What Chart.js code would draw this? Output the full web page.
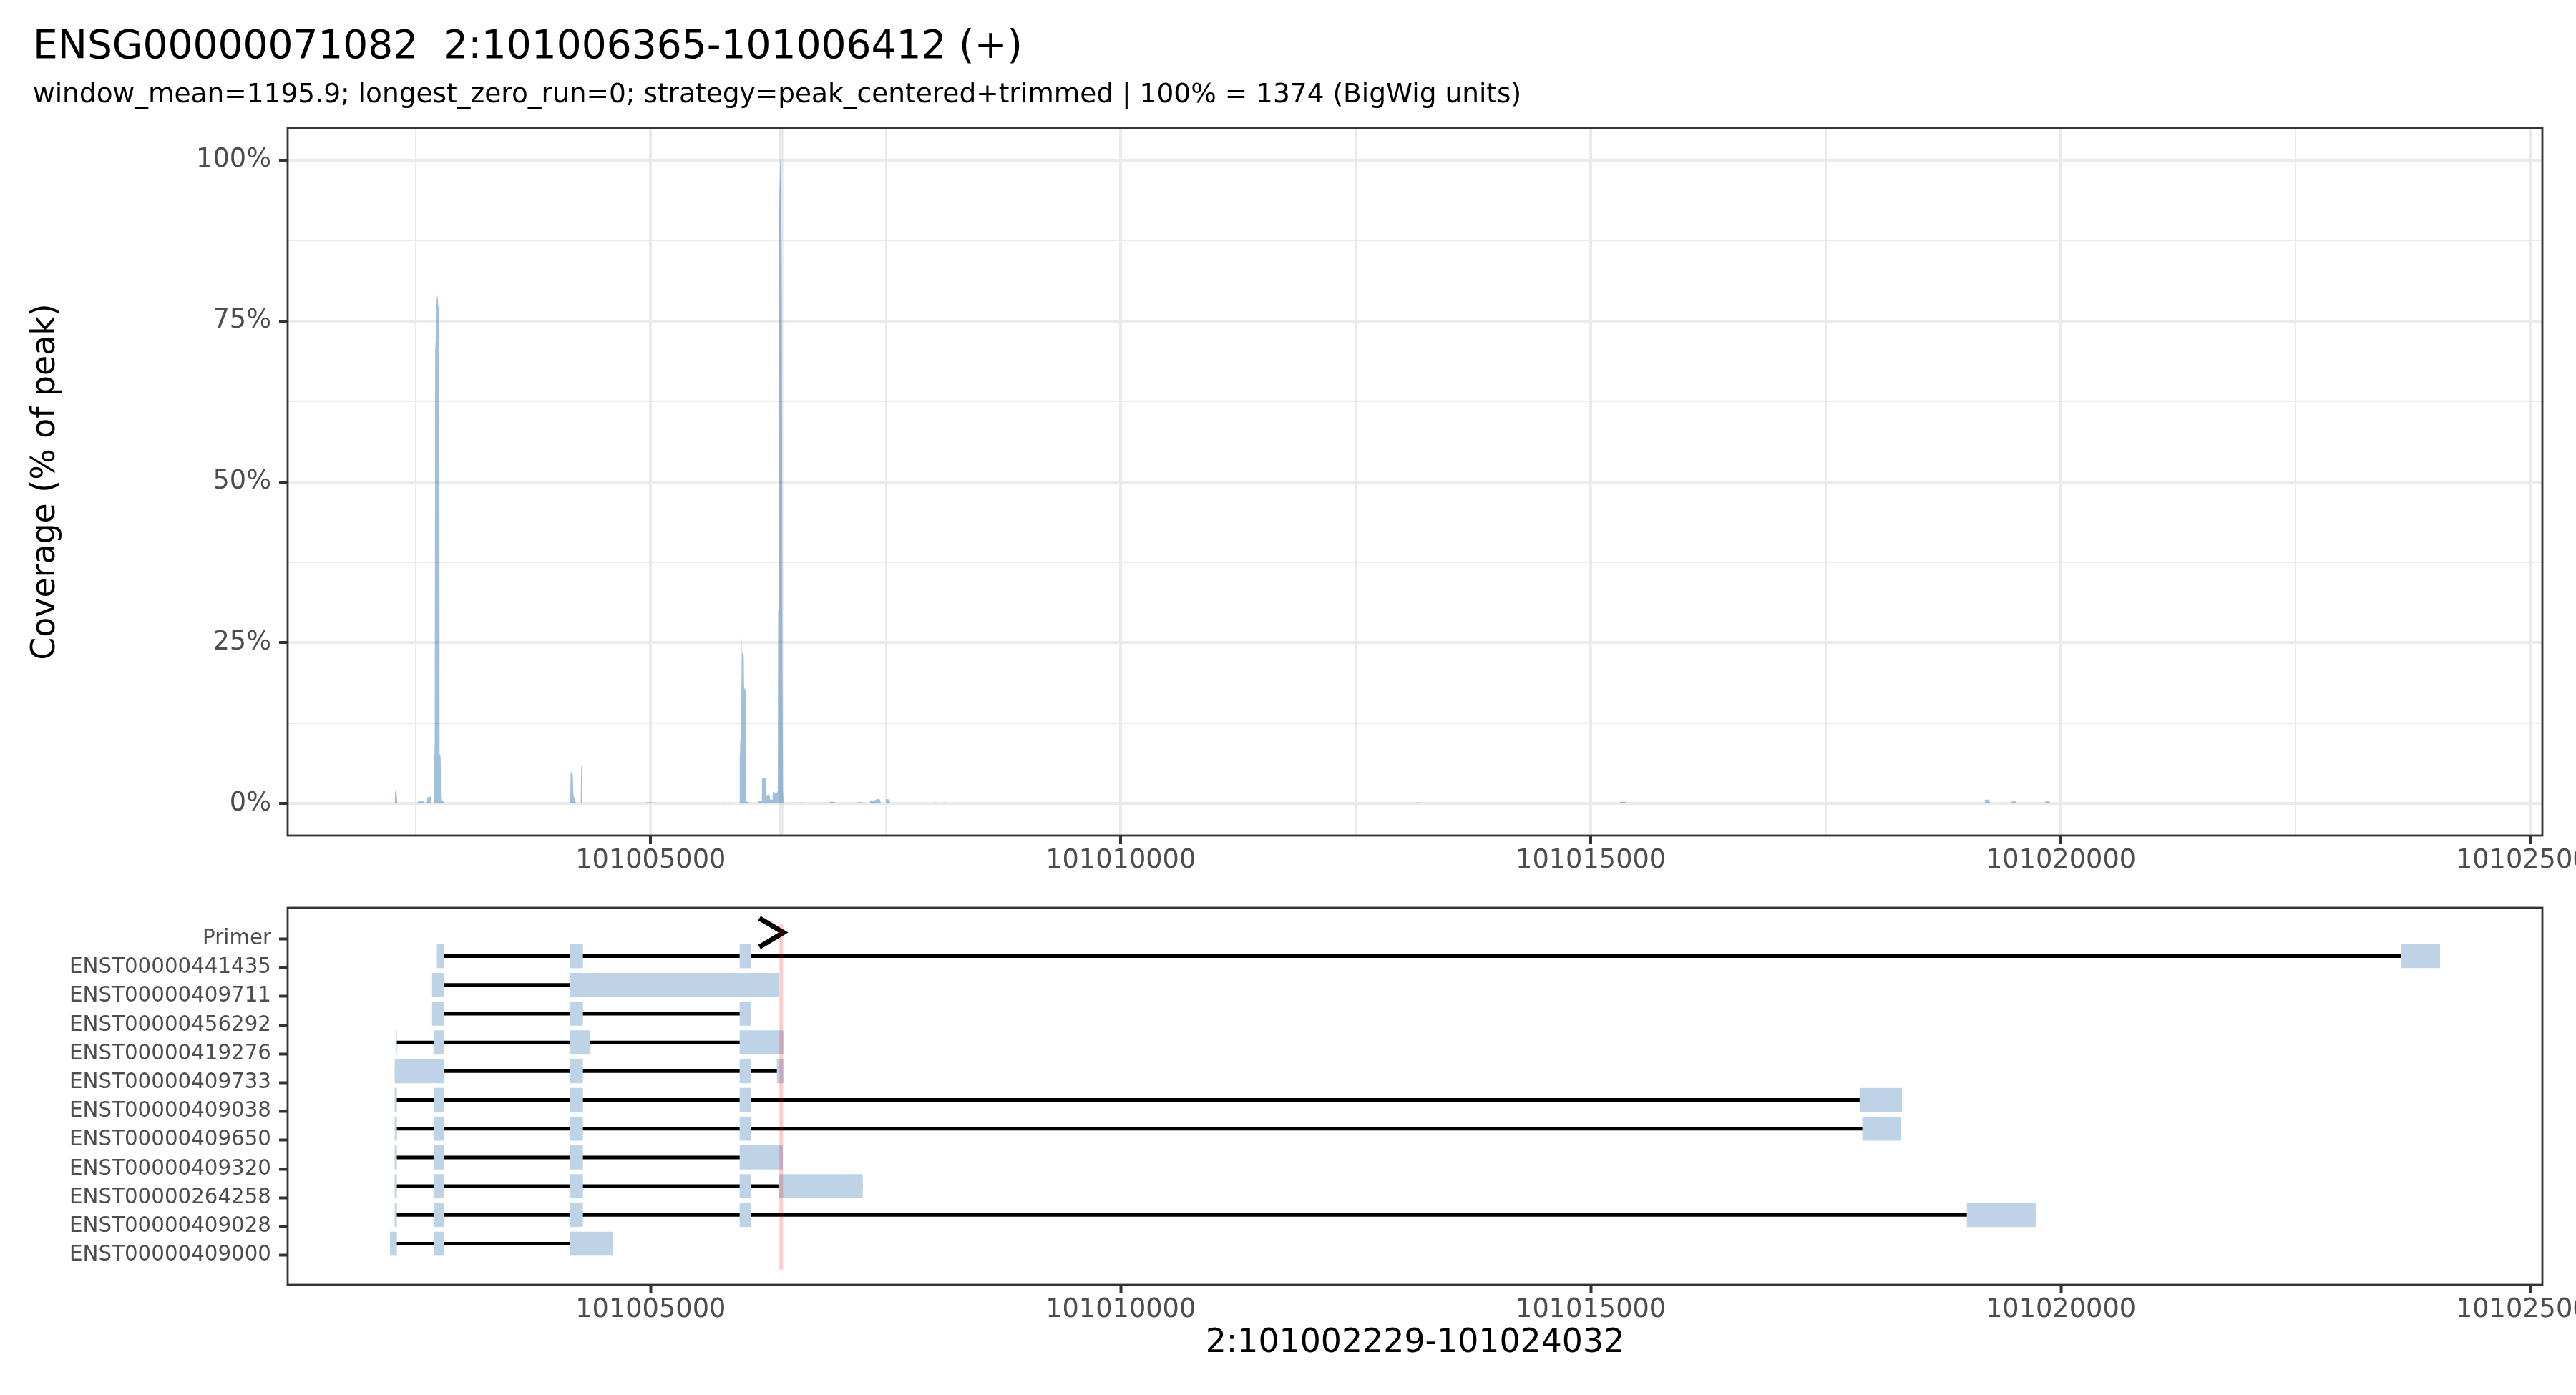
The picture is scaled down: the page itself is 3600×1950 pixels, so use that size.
<!DOCTYPE html>
<html><head><meta charset="utf-8">
<script src="https://cdn.jsdelivr.net/npm/chart.js@4.4.1/dist/chart.umd.min.js"></script>
<style>
html,body{margin:0;padding:0;background:#fff;width:3600px;height:1950px;overflow:hidden;}
#top{position:absolute;left:0;top:0;width:3700px;height:1250px;}
#bot{position:absolute;left:0;top:1250px;width:3700px;height:700px;}
</style></head><body>
<div id="top"><canvas id="c1" width="3700" height="1250"></canvas></div>
<div id="bot"><canvas id="c2" width="3700" height="700"></canvas></div>
<script>
// ---------------- data ----------------
const geneId = "ENSG00000071082";
const chrom = "2";
const regionStart = 101002229;
const regionEnd = 101024032;
const primerStart = 101006365;
const primerEnd = 101006412;
const strand = "+";
const subtitleText = "window_mean=1195.9; longest_zero_run=0; strategy=peak_centered+trimmed | 100% = 1374 (BigWig units)";

const covPos = [
 101002229,101002279,101002282,101002287,101002295,101002301,101002306,
 101002518,101002522,101002590,101002595,
 101002617,101002625,101002640,101002660,101002672,
 101002690,101002694,101002703,101002708,101002716,101002724,101002733,101002740,101002752,101002755,101002766,101002770,101002780,101002796,101002800,
 101004144,101004149,101004158,101004170,101004180,101004200,101004207,
 101004257,101004261,101004267,101004272,
 101004950,101004955,101005010,101005015,
 101005470,101005480,101005500,101005510,
 101005580,101005590,101005610,101005620,
 101005670,101005680,101005700,101005710,
 101005760,101005770,101005790,101005800,
 101005825,101005835,101005855,101005865,
 101005944,101005947,101005955,101005962,101005970,101005974,101005990,101005994,101006010,101006013,101006045,101006048,
 101006140,101006144,101006180,101006184,101006200,101006222,101006226,101006250,101006268,101006272,101006296,101006300,101006340,101006352,
 101006356,101006360,101006370,101006380,101006388,101006396,101006402,101006408,101006416,
 101006484,101006490,101006530,101006536,
 101006576,101006582,101006622,101006628,
 101006900,101006906,101006958,101006964,
 101007196,101007202,101007250,101007256,
 101007330,101007340,101007370,101007412,101007440,101007450,
 101007500,101007506,101007540,101007548,
 101007998,101008004,101008050,101008056,
 101008098,101008104,101008150,101008156,
 101009044,101009050,101009096,101009102,
 101011082,101011088,101011134,101011140,
 101011220,101011226,101011270,101011276,
 101013136,101013142,101013190,101013196,
 101015310,101015316,101015370,101015376,
 101017846,101017852,101017900,101017906,
 101019186,101019192,101019240,101019246,
 101019470,101019476,101019520,101019526,
 101019826,101019832,101019880,101019886,
 101020100,101020106,101020154,101020160,
 101023866,101023872,101023922,101023928,
 101024032
];
const covPct = [
 0,0,1.9,2.3,2.2,1.0,0,
 0,0.3,0.3,0,
 0,0.8,1.1,1.0,0,
 0,3.9,9.5,70.5,72.5,78.5,79.0,77.4,77.2,7.7,7.2,3.0,0.5,0.3,0,
 0,4.5,5.0,4.7,1.2,0.4,0,
 0,5.9,5.6,0,
 0,0.2,0.2,0,
 0,0.12,0.12,0,
 0,0.12,0.12,0,
 0,0.12,0.12,0,
 0,0.15,0.15,0,
 0,0.15,0.15,0,
 0,6.7,10.0,11.5,26.0,23.5,23.0,18.0,17.5,0.3,0.2,0,
 0,0.4,0.4,3.8,3.9,4.0,1.2,1.4,1.2,0.6,0.6,1.8,1.6,2.0,
 30,86,95,100,99,75,20,2,0,
 0,0.15,0.15,0,
 0,0.15,0.15,0,
 0,0.25,0.25,0,
 0,0.2,0.2,0,
 0,0.5,0.4,0.7,0.6,0,
 0,0.7,0.6,0,
 0,0.15,0.15,0,
 0,0.15,0.15,0,
 0,0.12,0.12,0,
 0,0.12,0.12,0,
 0,0.12,0.12,0,
 0,0.15,0.15,0,
 0,0.25,0.25,0,
 0,0.12,0.12,0,
 0,0.6,0.6,0,
 0,0.3,0.3,0,
 0,0.3,0.3,0,
 0,0.12,0.12,0,
 0,0.12,0.12,0,
 0
];

const xMajorTicks = [101005000,101010000,101015000,101020000,101025000];
const xMinorTicks = [101002500,101007500,101012500,101017500,101022500];
const yMajorTicks = [0,25,50,75,100];
const yMinorTicks = [12.5,37.5,62.5,87.5];
const yTickLabels = ["0%","25%","50%","75%","100%"];

// transcripts, top to bottom
const transcriptIds = [
 "ENST00000441435","ENST00000409711","ENST00000456292","ENST00000419276",
 "ENST00000409733","ENST00000409038","ENST00000409650","ENST00000409320",
 "ENST00000264258","ENST00000409028","ENST00000409000"
];
const transcriptExons = [
 [[101002729,101002798],[101004144,101004277],[101005949,101006065],[101023623,101024032]],
 [[101002677,101002798],[101004144,101006362]],
 [[101002677,101002798],[101004144,101004277],[101005949,101006065]],
 [[101002290,101002298],[101002694,101002798],[101004144,101004353],[101005949,101006416]],
 [[101002280,101002798],[101004144,101004277],[101005949,101006065],[101006345,101006416]],
 [[101002280,101002298],[101002694,101002798],[101004144,101004277],[101005949,101006065],[101017862,101018309]],
 [[101002280,101002298],[101002694,101002798],[101004144,101004277],[101005949,101006065],[101017891,101018298]],
 [[101002280,101002298],[101002694,101002798],[101004144,101004277],[101005949,101006403]],
 [[101002280,101002298],[101002694,101002798],[101004144,101004277],[101005949,101006065],[101006362,101007253]],
 [[101002280,101002298],[101002694,101002798],[101004144,101004277],[101005949,101006065],[101019003,101019730]],
 [[101002229,101002298],[101002694,101002798],[101004144,101004593]]
];
const primerLabel = "Primer";

// ---------------- helpers / styles ----------------
const FONT = "'DejaVu Sans', 'Liberation Sans', sans-serif";
const span = regionEnd - regionStart;
const xMin = regionStart - 0.05 * span;
const xMax = regionEnd + 0.05 * span;
const primerMid = (primerStart + primerEnd) / 2;
const isMajorX = v => xMajorTicks.includes(v);
const isMajorY = v => yMajorTicks.includes(v);

const framePlugin = {
  id: 'frame',
  afterDatasetsDraw(chart) {
    const {ctx, chartArea: a} = chart;
    ctx.save();
    ctx.strokeStyle = '#333333';
    ctx.lineWidth = 2.8;
    ctx.strokeRect(a.left, a.top, a.right - a.left, a.bottom - a.top);
    ctx.restore();
  }
};
const noPad = s => { s.paddingTop = 0; s.paddingBottom = 0; };

Chart.defaults.font.family = FONT;

// ---------------- top: coverage ----------------
const covData = covPos.map((p, i) => ({x: p, y: covPct[i]}));
new Chart(document.getElementById('c1'), {
  type: 'line',
  data: {
    datasets: [
      {
        label: 'coverage',
        data: covData,
        fill: 'origin',
        backgroundColor: 'rgba(70,130,180,0.5)',
        borderColor: 'rgba(0,0,0,0)',
        borderWidth: 0,
        pointRadius: 0,
        tension: 0,
        order: 1
      },
      {
        label: 'primer',
        data: [{x: primerMid, y: -5}, {x: primerMid, y: 105}],
        borderColor: 'rgba(190,190,190,0.35)',
        borderWidth: 6,
        borderCapStyle: 'butt',
        pointRadius: 0,
        fill: false,
        order: 2
      }
    ]
  },
  options: {
    responsive: false,
    animation: false,
    devicePixelRatio: 1,
    layout: {padding: {left: 46, right: 147, top: 0, bottom: 0}},
    plugins: {
      legend: {display: false},
      tooltip: {enabled: false},
      title: {
        display: true,
        text: geneId + "  " + chrom + ":" + primerStart + "-" + primerEnd + " (" + strand + ")",
        align: 'start',
        color: '#000000',
        font: {family: FONT, size: 55, weight: 'normal', lineHeight: 1.2},
        padding: {top: 34, bottom: 0}
      },
      subtitle: {
        display: true,
        text: subtitleText,
        align: 'start',
        color: '#000000',
        font: {family: FONT, size: 37.5, weight: 'normal', lineHeight: 1.2},
        padding: {top: 10.5, bottom: 23.5}
      }
    },
    scales: {
      x: {
        type: 'linear',
        min: xMin, max: xMax,
        offset: false,
        afterBuildTicks: s => { s.ticks = xMinorTicks.concat(xMajorTicks).sort((a, b) => a - b).map(v => ({value: v})); },
        afterFit: s => { s.height = 82; },
        border: {display: false},
        grid: {
          offset: false,
          color: '#EBEBEB',
          lineWidth: c => (c.tick && isMajorX(c.tick.value)) ? 4 : 2,
          tickLength: 12,
          tickWidth: 4,
          tickColor: c => (c.tick && isMajorX(c.tick.value)) ? '#333333' : 'rgba(0,0,0,0)'
        },
        ticks: {
          autoSkip: false, maxRotation: 0, minRotation: 0,
          color: '#4D4D4D',
          font: {family: FONT, size: 36.7, lineHeight: 1},
          padding: 5,
          callback: v => isMajorX(v) ? String(v) : ''
        }
      },
      y: {
        type: 'linear',
        min: -5, max: 105,
        afterBuildTicks: s => { s.ticks = yMinorTicks.concat(yMajorTicks).sort((a, b) => a - b).map(v => ({value: v})); },
        afterFit: s => { s.width = 356; noPad(s); },
        border: {display: false},
        grid: {
          offset: false,
          color: '#EBEBEB',
          lineWidth: c => (c.tick && isMajorY(c.tick.value)) ? 4 : 2,
          tickLength: 12,
          tickWidth: 4,
          tickColor: c => (c.tick && isMajorY(c.tick.value)) ? '#333333' : 'rgba(0,0,0,0)'
        },
        ticks: {
          autoSkip: false,
          color: '#4D4D4D',
          font: {family: FONT, size: 36.7, lineHeight: 1},
          padding: 11,
          callback: v => isMajorY(v) ? yTickLabels[yMajorTicks.indexOf(v)] : ''
        },
        title: {
          display: true,
          text: 'Coverage (% of peak)',
          color: '#000000',
          font: {family: FONT, size: 45.8, lineHeight: 1},
          padding: {top: -5, bottom: 0}
        }
      }
    }
  },
  plugins: [framePlugin]
});

// ---------------- bottom: transcripts ----------------
const nRows = transcriptIds.length;            // rows 0..nRows-1 bottom->top, primer row = nRows
const rowLabels = transcriptIds.slice().reverse().concat([primerLabel]);
const rowOffset = 0.4;                          // drawing offset of features above their tick
const exonBars = [];
const intronSets = [];
transcriptIds.forEach((id, k) => {
  const row = nRows - 1 - k;
  const ex = transcriptExons[k];
  ex.forEach(e => exonBars.push({x: [e[0], e[1]], y: row + rowOffset}));
  const starts = ex.map(e => e[0]), ends = ex.map(e => e[1]);
  intronSets.push({
    type: 'line',
    label: id,
    data: [{x: Math.min(...starts), y: row + rowOffset}, {x: Math.max(...ends), y: row + rowOffset}],
    borderColor: '#000000',
    borderWidth: 5,
    borderCapStyle: 'butt',
    pointRadius: 0,
    fill: false,
    order: 3
  });
});
const primerRowY = nRows + 0.22;
const arrowLen = 255, arrowHalf = 0.5;

new Chart(document.getElementById('c2'), {
  type: 'line',
  data: {
    datasets: [
      {
        type: 'line',
        label: 'primer position',
        data: [{x: primerMid, y: -0.5}, {x: primerMid, y: nRows + 0.5}],
        borderColor: 'rgba(255,0,0,0.2)',
        borderWidth: 5,
        borderCapStyle: 'butt',
        pointRadius: 0,
        fill: false,
        order: 0
      },
      {
        type: 'line',
        label: 'primer',
        data: [
          {x: primerEnd - arrowLen, y: primerRowY + arrowHalf},
          {x: primerEnd, y: primerRowY},
          {x: primerEnd - arrowLen, y: primerRowY - arrowHalf}
        ],
        borderColor: '#000000',
        borderWidth: 7,
        borderJoinStyle: 'miter',
        borderCapStyle: 'butt',
        pointRadius: 0,
        fill: false,
        order: 0
      },
      {
        type: 'bar',
        label: 'exons',
        indexAxis: 'y',
        data: exonBars,
        backgroundColor: '#BED3E6',
        borderWidth: 0,
        barThickness: 33,
        order: 1
      }
    ].concat(intronSets)
  },
  options: {
    responsive: false,
    animation: false,
    devicePixelRatio: 1,
    layout: {padding: {left: 46, right: 147, top: 19, bottom: 0}},
    plugins: {legend: {display: false}, tooltip: {enabled: false}},
    scales: {
      x: {
        type: 'linear',
        min: xMin, max: xMax,
        offset: false,
        afterBuildTicks: s => { s.ticks = xMajorTicks.map(v => ({value: v})); },
        afterFit: s => { s.height = 154; },
        border: {display: false},
        grid: {offset: false, drawOnChartArea: false, tickLength: 12, tickWidth: 4, tickColor: '#333333'},
        ticks: {
          autoSkip: false, maxRotation: 0, minRotation: 0,
          color: '#4D4D4D',
          font: {family: FONT, size: 36.7, lineHeight: 1},
          padding: 5,
          callback: v => String(v)
        },
        title: {
          display: true,
          text: chrom + ":" + regionStart + "-" + regionEnd,
          color: '#000000',
          font: {family: FONT, size: 45.8, lineHeight: 1},
          padding: {top: 0, bottom: 49}
        }
      },
      y: {
        type: 'linear',
        min: -1.03, max: 12.08,
        offset: false,
        afterBuildTicks: s => { s.ticks = rowLabels.map((_, i) => ({value: i})); },
        afterFit: s => { s.width = 356; noPad(s); },
        border: {display: false},
        grid: {offset: false, drawOnChartArea: false, tickLength: 12, tickWidth: 4, tickColor: '#333333'},
        ticks: {
          autoSkip: false,
          color: '#4D4D4D',
          font: {family: FONT, size: 29.3, lineHeight: 1},
          padding: 11,
          callback: v => rowLabels[v]
        }
      }
    }
  },
  plugins: [framePlugin]
});
</script>
</body></html>
